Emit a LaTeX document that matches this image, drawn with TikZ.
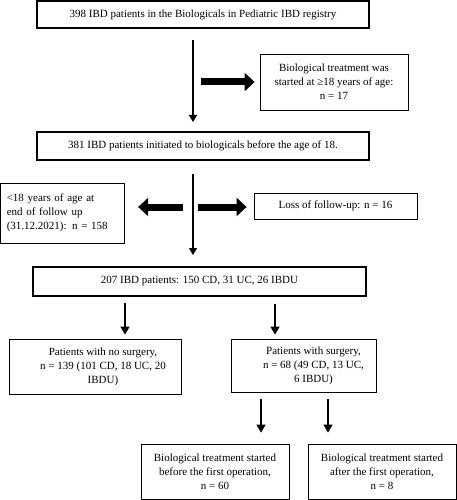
\documentclass[tikz,border=0pt]{standalone}
\usepackage{fontspec}
\setmainfont{Liberation Serif}
\usetikzlibrary{arrows.meta}

\tikzset{
  box/.style={draw, line width=0.8pt, inner sep=0pt, align=center,
    font=\fontsize{11}{14}\selectfont},
  heavybox/.style={box, line width=2pt},
  arr/.style={line width=1.2pt, -{Triangle[length=7pt,width=8pt]}},
  shortarr/.style={line width=1.6pt, -{Triangle[length=8pt,width=9pt]}},
  fat/.style={line width=7pt, -{Triangle[length=10pt,width=18pt]}}
}

\begin{document}
\begin{tikzpicture}[x=1pt,y=-1pt]
\useasboundingbox (0,0) rectangle (457,500);

% Registry
\node[heavybox, minimum width=332pt, minimum height=27pt] (reg) at (203,14.5)
  {398 IBD patients in the Biologicals in Pediatric IBD registry};
\node[box, minimum width=148pt, minimum height=56pt] (bio18) at (334,82)
  {Biological treatment was\\started at ≥18 years of age:\\n = 17};
\node[heavybox, minimum width=332pt, minimum height=28pt] (init) at (203,146)
  {381 IBD patients initiated to biologicals before the age of 18.};

% Follow-up
\node[box, align=left, text width=112pt, inner xsep=6pt, minimum height=60pt] (under18) at (62.75,213)
  {<18 years of age at\\end of follow up\\(31.12.2021): n = 158};
\node[box, minimum width=163pt, minimum height=26pt] (loss) at (335.5,206)
  {Loss of follow-up: n = 16};
\node[heavybox, minimum width=333pt, minimum height=29pt] (cohort) at (199.5,281.5)
  {207 IBD patients: 150 CD, 31 UC, 26 IBDU};

% Surgery
\node[box, minimum width=172pt, minimum height=55pt] (nosurg) at (95,366.5) {};
\node[box, draw=none] (nosurgtxt) at ([xshift=8pt]nosurg.center)
  {Patients with no surgery,\\n = 139 (101 CD, 18 UC, 20\\IBDU)};
\node[box, minimum width=145pt, minimum height=53pt] (surg) at (303.5,365.5) {};
\node[box, draw=none] (surgtxt) at ([xshift=10pt]surg.center)
  {Patients with surgery,\\n = 68 (49 CD, 13 UC,\\6 IBDU)};
\node[box, minimum width=148pt, minimum height=55pt] (before) at (215,471.5)
  {Biological treatment started\\before the first operation,\\n = 60};
\node[box, minimum width=148pt, minimum height=55pt] (after) at (382,471.5)
  {Biological treatment started\\after the first operation,\\n = 8};

% Arrows
\coordinate (spine) at (193,0);
\coordinate (f1) at (201,82);
\coordinate (f2) at (183,207);
\coordinate (f3) at (198,207);
\draw[arr, shorten <=11pt, shorten >=9pt] (reg.south -| spine) -- (init.north -| spine);
\draw[arr, shorten <=13pt, shorten >=11pt] (init.south -| spine) -- (cohort.north -| spine);
\draw[fat, shorten >=5pt] (f1) -- (bio18.west);
\draw[fat, shorten >=13pt] (f2) -- (f2 -| under18.east);
\draw[fat, shorten >=7pt] (f3) -- (f3 -| loss.west);
\draw[shortarr, shorten <=6pt, shorten >=4pt] ([xshift=30pt]nosurg.north |- cohort.south) -- ([xshift=30pt]nosurg.north);
\draw[shortarr, shorten <=7pt, shorten >=4pt] ([xshift=-28.5pt]surg.north |- cohort.south) -- ([xshift=-28.5pt]surg.north);
\draw[shortarr, shorten <=7pt, shorten >=11pt] ([xshift=46pt]before.north |- surg.south) -- ([xshift=46pt]before.north);
\draw[shortarr, shorten <=7pt, shorten >=11pt] ([xshift=-54pt]after.north |- surg.south) -- ([xshift=-54pt]after.north);
\end{tikzpicture}
\end{document}
